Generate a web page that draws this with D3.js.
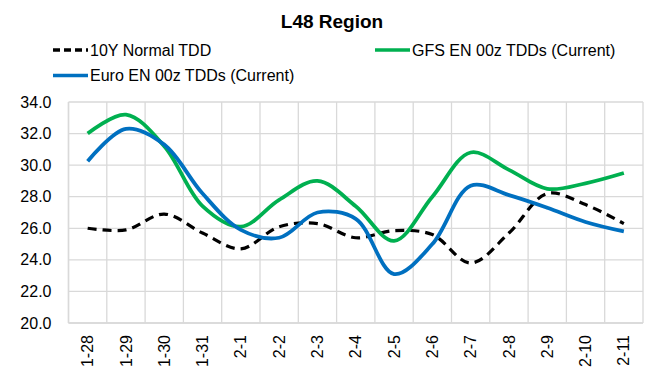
<!DOCTYPE html>
<html><head><meta charset="utf-8">
<script src="https://cdn.jsdelivr.net/npm/d3@7"></script>
<style>body{margin:0;background:#fff}svg{display:block}text{font-family:"Liberation Sans",Arial,sans-serif}</style>
</head><body><div id="c"></div>
<script>
const categories = ["1-28","1-29","1-30","1-31","2-1","2-2","2-3","2-4","2-5","2-6","2-7","2-8","2-9","2-10","2-11"];
const normal = [26.0,25.9,26.9,25.7,24.7,26.1,26.3,25.4,25.85,25.6,23.8,25.7,28.2,27.5,26.3];
const gfs    = [32.0,33.2,31.2,27.4,26.1,27.8,29.0,27.4,25.2,28.0,30.8,29.7,28.5,28.85,29.5];
const euro   = [30.25,32.3,31.3,28.2,25.9,25.4,27.0,26.6,23.1,25.0,28.7,28.1,27.3,26.4,25.8];
const yTicks = [20,22,24,26,28,30,32,34];

const W=664,H=385;
const m={l:68.5,r:21,t:102,b:62};
const FS=16;
const svg=d3.select("#c").append("svg").attr("width",W).attr("height",H);
const x=d3.scaleBand().domain(categories).range([m.l,W-m.r]);
const y=d3.scaleLinear().domain([20,34]).range([H-m.b,m.t]);
const g=svg.append("g");
// grid
g.selectAll("line.h").data(yTicks).join("line").attr("x1",m.l).attr("x2",W-m.r)
 .attr("y1",d=>y(d)).attr("y2",d=>y(d)).attr("stroke","#d9d9d9").attr("stroke-width",1.3);
const vb=categories.map(c=>x(c)).concat([W-m.r]);
g.selectAll("line.v").data(vb).join("line").attr("x1",d=>d).attr("x2",d=>d)
 .attr("y1",m.t).attr("y2",H-m.b).attr("stroke","#d9d9d9").attr("stroke-width",1.3);
// y labels
const ya=d3.axisLeft(y).tickValues(yTicks).tickFormat(d3.format(".1f")).tickSize(0).tickPadding(17);
svg.append("g").attr("transform",`translate(${m.l},0)`).call(ya)
 .call(s=>s.select(".domain").remove())
 .selectAll("text").attr("font-size",FS).attr("fill","#000").attr("font-family","Liberation Sans, Arial");
// x labels
const xa=d3.axisBottom(x).tickSize(0);
svg.append("g").attr("transform",`translate(0,${H-m.b})`).call(xa)
 .call(s=>s.select(".domain").remove())
 .selectAll("text").attr("font-size",FS).attr("fill","#000").attr("font-family","Liberation Sans, Arial")
 .attr("text-anchor","end").attr("dy","0.35em").attr("transform","translate(0,12) rotate(-90)").attr("x",0).attr("y",0);
// axes lines
svg.append("line").attr("x1",m.l).attr("x2",W-m.r).attr("y1",H-m.b).attr("y2",H-m.b).attr("stroke","#d9d9d9").attr("stroke-width",1.5);
svg.append("line").attr("x1",m.l).attr("x2",m.l).attr("y1",m.t).attr("y2",H-m.b).attr("stroke","#d9d9d9").attr("stroke-width",1.5);

const cx=c=>x(c)+x.bandwidth()/2;
const line=d3.line().x((d,i)=>cx(categories[i])).y(d=>y(d)).curve(d3.curveCatmullRom.alpha(0.5));
svg.append("path").attr("d",line(normal)).attr("fill","none").attr("stroke","#000").attr("stroke-width",3.2).attr("stroke-dasharray","9,6");
svg.append("path").attr("d",line(gfs)).attr("fill","none").attr("stroke","#00b050").attr("stroke-width",3.8);
svg.append("path").attr("d",line(euro)).attr("fill","none").attr("stroke","#0070c0").attr("stroke-width",3.8);

// title
svg.append("text").attr("x",332).attr("y",28).attr("text-anchor","middle").attr("font-size",19).attr("font-weight","bold").text("L48 Region");
// legend
const leg=[{n:"10Y Normal TDD",c:"#000",d:"7,4",x:53,y:50},{n:"GFS EN 00z TDDs (Current)",c:"#00b050",d:null,x:375,y:50},{n:"Euro EN 00z TDDs (Current)",c:"#0070c0",d:null,x:53,y:75.5}];
leg.forEach(l=>{
 const ln=svg.append("line").attr("x1",l.x).attr("x2",l.x+35).attr("y1",l.y).attr("y2",l.y).attr("stroke",l.c).attr("stroke-width",3.5);
 if(l.d) ln.attr("stroke-dasharray",l.d);
 svg.append("text").attr("x",l.x+37).attr("y",l.y+5.5).attr("font-size",FS).text(l.n);
});
</script></body></html>
